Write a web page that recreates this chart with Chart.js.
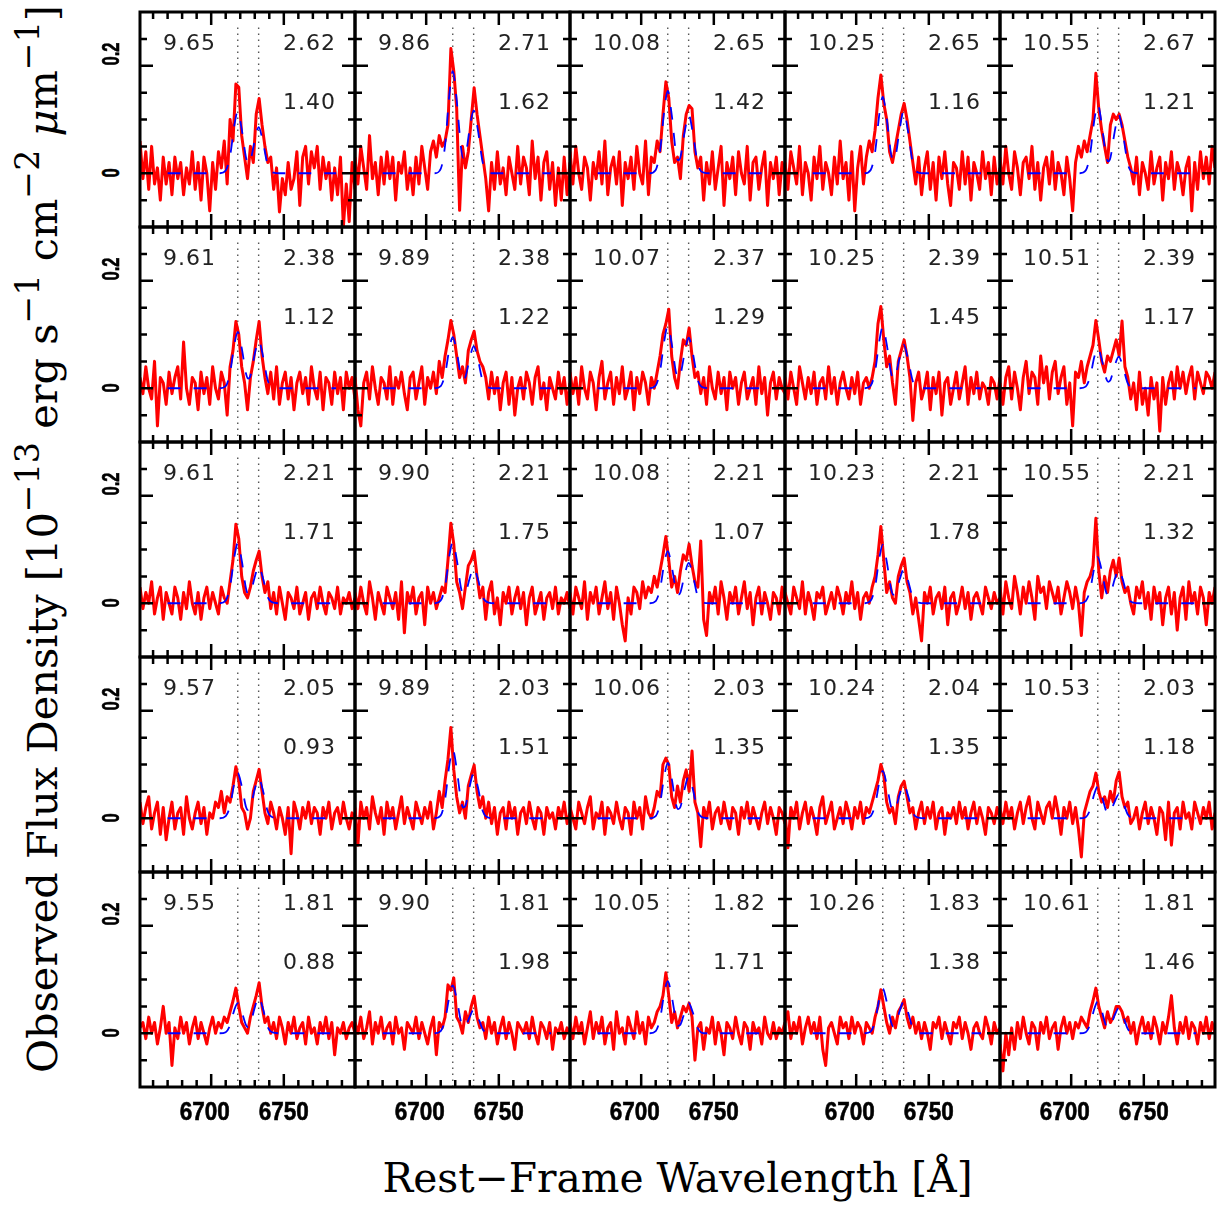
<!DOCTYPE html>
<html>
<head>
<meta charset="utf-8">
<script src="https://cdn.jsdelivr.net/npm/chart.js"></script>
<style>
  body { margin: 0; background: #fff; }
  #fig { position: relative; width: 1224px; height: 1205px; overflow: hidden; background: #fff; }
  #fig canvas { position: absolute; }
  .txt { position: absolute; white-space: nowrap; line-height: 1; color: #000; }
  .num { font-family: "DejaVu Sans", sans-serif; font-weight: normal; color: #222; letter-spacing: 1px; }
  .tick { font-family: "Liberation Sans", Arial, sans-serif; font-weight: bold; -webkit-text-stroke: 0.6px #000; }
  .title { font-family: "DejaVu Serif", serif; }
  .title sup { font-size: 0.8em; vertical-align: baseline; position: relative; top: -0.55em; }
</style>
</head>
<body>
<div id="fig"></div>
<script>
// wavelength grid of the observed spectra (rest frame, A)
const WAVE = [
  6651,6653,6655,6657,6659,6661,6663,6665,6667,6669,
  6671,6673,6675,6677,6679,6681,6683,6685,6687,6689,
  6691,6693,6695,6697,6699,6701,6703,6705,6707,6709,
  6711,6713,6715,6717,6719,6721,6723,6725,6727,6729,
  6731,6733,6735,6737,6739,6741,6743,6745,6747,6749,
  6751,6753,6755,6757,6759,6761,6763,6765,6767,6769,
  6771,6773,6775,6777,6779,6781,6783,6785,6787,6789,
  6791,6793,6795,6797,6799
];

// fitted model (blue dashed) is sampled on this grid
const MODEL_WAVE = [6670, 6706, 6710, 6713, 6716, 6718.3, 6721, 6724, 6725.5, 6727, 6730, 6732.7, 6735.5, 6739, 6743, 6747, 6786];

// [SII] doublet positions (dotted lines)
const LINE_WAVES = [6718.29, 6732.67];

// tick values
const X_TICKS = [6660, 6670, 6680, 6690, 6700, 6710, 6720, 6730, 6740, 6750, 6760, 6770, 6780, 6790];
const X_MAJOR = [6700, 6750];
const Y_TICKS = [-0.05, 0, 0.05, 0.1, 0.15, 0.2, 0.25];
const Y_MAJOR = [0, 0.2];
const X_LABELS = [6700, 6750];
const Y_LABELS = [0.2, 0];

// numbers printed in each panel (row by row)
const NUM_LEFT = ['9.65','9.86','10.08','10.25','10.55', '9.61','9.89','10.07','10.25','10.51',
                  '9.61','9.90','10.08','10.23','10.55', '9.57','9.89','10.06','10.24','10.53',
                  '9.55','9.90','10.05','10.26','10.61'];
const NUM_RIGHT = ['2.62','2.71','2.65','2.65','2.67', '2.38','2.38','2.37','2.39','2.39',
                   '2.21','2.21','2.21','2.21','2.21', '2.05','2.03','2.03','2.04','2.03',
                   '1.81','1.81','1.82','1.83','1.81'];
const NUM_RATIO = ['1.40','1.62','1.42','1.16','1.21', '1.12','1.22','1.29','1.45','1.17',
                   '1.71','1.75','1.07','1.78','1.32', '0.93','1.51','1.35','1.35','1.18',
                   '0.88','1.98','1.71','1.38','1.46'];

// observed flux density, one array per panel
const FLUX_ROW1 = [
  [.06,-.01,.04,-.03,.05,-.02,.01,-.05,.03,-.02, .02,-.04,.03,-.01,.02,-.04,.01,-.02,.04,-.03,
   .02,-.05,.03,.00,-.07,.02,-.03,.04,.01,.06, -.02,.10,.06,.166,.16,.07,.03,-.01,.05,.02,
   .11,.139,.09,.05,.02,.03,-.03,.01,-.072,-.01, -.04,.02,-.03,-.01,.04,-.06,.03,.05,-.02,.04,
   .01,.05,-.03,.03,-.01,.02,-.05,.01,-.04,.03, -.10,-.02,-.09,.02,-.03],
  [.03,-.02,.05,.01,-.03,.07,-.01,.02,-.04,.03, -.02,.04,-.01,.03,-.05,.02,.00,.04,-.03,.01,
   -.04,.03,-.02,.05,.01,-.03,.04,.06,.03,.07, .05,.06,.09,.232,.19,.12,-.069,.05,.01,.04,
   .10,.159,.11,.07,.03,-.01,-.07,.02,-.03,.04, -.02,.01,-.04,.03,.00,-.03,.05,-.02,.03,.01,
   -.04,.06,-.01,.03,-.05,.02,.04,-.03,.02,-.06, .01,-.05,.03,-.04,.02],
  [.04,-.02,.05,.00,-.03,.03,.01,-.05,.02,-.01, .04,-.02,.06,-.04,.01,.03,-.02,.04,-.06,.02,
   -.01,.03,-.03,.05,.00,-.02,.06,-.04,.03,.02, .06,.04,.11,.17,.14,.06,.02,.03,-.01,.07,
   .11,.126,.12,.04,.01,.03,-.05,.02,-.02,.04, -.03,.01,.05,-.06,.02,-.01,.03,-.04,.04,.00,
   -.02,.05,-.05,.02,.03,-.03,.01,.04,-.06,.02, -.01,.03,-.04,.02,.00],
  [.02,-.03,.04,.01,-.02,.05,-.04,.02,.00,-.05, .03,-.01,.05,-.03,.02,.00,-.04,.03,-.02,.06,
   -.01,.02,-.05,.04,-.07,.01,.05,-.02,.03,.06, .04,.08,.14,.183,.13,.10,.04,.02,.05,.08,
   .11,.13,.10,.06,.02,-.02,.03,-.04,.01,.04, -.03,.02,-.05,.03,-.01,.04,-.02,-.06,.02,.01,
   -.03,.04,-.02,.03,-.05,.02,.00,-.03,.04,-.01, .02,-.04,.03,-.02,.01],
  [.03,-.02,.05,.00,-.03,.04,.01,-.04,.02,.03, -.01,.05,-.03,.02,-.05,.01,.03,-.02,.04,-.03,
   .02,.00,-.04,.03,-.01,-.07,.02,.05,.03,.06, .04,.07,.10,.186,.12,.08,.05,.02,.09,.11,
   .10,.11,.09,.06,.03,.01,-.02,.03,-.04,.02, .00,-.03,.04,-.02,.01,.03,-.05,.02,-.01,.04,
   -.03,.02,.00,-.04,.01,.03,-.07,.02,-.03,.04, -.01,.03,-.02,.05,.01]
];
const FLUX_ROW2 = [
  [.02,-.01,.04,.00,-.02,.05,-.07,.02,.01,-.03, .03,-.01,.02,.04,-.02,.086,.00,-.03,.02,.01,
   -.04,.03,-.01,.02,-.03,.04,.00,-.02,.03,.01, -.05,.04,.07,.124,.10,.04,.01,-.04,.02,.05,
   .09,.124,.06,.02,-.01,.03,-.02,.04,-.03,.01, .03,-.02,.02,-.04,.01,.03,-.01,.02,-.03,.04,
   .00,-.02,.03,-.04,.02,.01,-.03,.03,-.01,.02, -.04,.03,.00,.02,-.02],
  [.02,-.04,-.07,.01,.03,-.02,.04,.00,-.03,.02, .01,-.02,.04,-.03,.02,.00,.03,-.01,-.04,.02,
   .03,-.02,.01,.04,-.03,.02,.00,.03,-.01,.05, .02,.06,.09,.126,.10,.06,.02,.04,.01,.07,
   .09,.106,.07,.05,.04,.02,-.02,.03,-.01,.02, -.04,.01,.03,-.03,.02,-.05,.00,.02,-.02,.03,
   .01,-.03,.02,.04,-.02,.01,-.04,.02,.00,-.02, .03,-.01,.02,-.03,.01],
  [.03,-.01,.02,-.03,.04,.00,-.02,.03,.01,-.04, .02,.05,-.02,.01,.03,-.03,.02,-.01,.04,-.02,
   .00,.03,-.04,.02,-.01,.03,.01,-.03,.02,.00, .03,.06,.10,.12,.147,.06,.02,.00,.05,.09,
   .08,.112,.06,.02,.03,-.01,.02,-.03,.04,.00, -.02,.03,-.01,.02,-.04,.03,.00,.02,-.03,.01,
   .03,-.02,.00,.02,-.03,.04,-.01,.02,-.05,.01, .03,-.02,.02,.00,-.01],
  [.02,-.02,.03,.00,-.03,.04,.01,-.02,.02,-.01, .03,-.03,.01,.02,-.02,.04,-.01,.02,-.03,.01,
   .03,.00,-.02,.02,-.01,.03,-.03,.01,.02,.00, .02,.05,.12,.152,.09,.04,.06,.01,-.03,.05,
   .07,.09,.06,.02,-.06,.01,.03,-.02,.00,.03, -.04,.02,-.01,.03,-.05,.01,.02,-.03,.00,.03,
   -.02,.01,.04,-.03,.02,-.01,.03,-.02,.01,.00, -.03,.02,.01,-.02,.02],
  [.01,-.03,.02,.04,-.02,.03,.00,-.04,.02,.05, -.01,.03,.02,-.03,.06,.01,.04,-.02,.03,.05,
   -.01,.02,.04,-.03,.01,-.07,.03,.02,.05,.01, .04,.06,.08,.126,.09,.05,.03,.06,.05,.07,
   .09,.06,.125,.04,.02,-.02,.01,-.04,.03,-.03, .00,-.05,.02,-.02,.01,-.08,.02,-.03,.01,.03,
   -.02,.04,.00,.03,-.01,.02,.04,-.02,.03,.01, -.01,.03,.02,.00,.03]
];
const FLUX_ROW3 = [
  [.03,-.01,.02,.00,.04,-.02,.01,.03,-.03,.02, .00,-.02,.03,.01,-.03,.02,-.01,.04,.00,-.02,
   .02,-.03,.01,.03,-.01,.02,.00,-.02,.03,.01, .00,.04,.08,.147,.12,.05,.02,.01,.03,.06,
   .08,.097,.05,.02,.04,-.01,.02,-.02,.03,.00, -.03,.02,.01,-.01,.03,-.02,.00,.02,-.03,.01,
   .02,-.01,.03,.00,-.02,.02,.01,-.01,.03,-.02, .01,.00,.02,-.01,.01],
  [.02,-.01,.03,.00,-.02,.04,.01,-.03,.02,.00, -.02,.03,.01,-.01,.02,-.03,.04,-.055,.02,.00,
   .03,-.02,.01,.02,-.04,.03,.00,.02,-.01,.01, .03,.02,.08,.149,.11,.04,.02,-.01,.03,.07,
   .08,.097,.05,.01,.03,-.03,.02,.04,-.02,.01, -.04,.02,.00,.03,-.02,.01,.03,-.01,.02,-.04,
   .01,.03,-.02,.00,.02,-.03,.01,.02,-.01,.03, -.02,.01,.00,.02,-.01],
  [.02,-.02,.03,.01,-.01,.04,-.03,.02,.00,.03, -.02,.01,.04,-.01,.02,-.03,.03,.00,-.04,-.07,
   .01,-.02,.03,.02,-.01,.04,.01,.03,.02,.05, .03,.06,.09,.124,.08,.03,.05,.02,.06,.09,
   .08,.11,.07,.04,.03,.116,-.03,-.06,.02,.00, .03,-.02,.04,.01,-.03,.02,.00,.03,-.02,.01,
   .04,-.01,.02,-.04,.01,.03,-.02,.02,.00,-.03, .02,.01,-.02,.03,.00],
  [.02,.00,-.02,.03,.01,-.01,.04,-.02,.02,.00, -.03,.02,.01,.03,-.02,.00,.02,-.01,.03,.01,
   -.02,.02,.00,.04,-.01,.02,-.03,.01,.02,.00, .03,.05,.09,.143,.08,.02,.04,.01,.00,.05,
   .07,.084,.04,.02,-.02,.01,-.03,-.07,.02,.00, .03,-.02,.01,.02,-.01,.03,-.04,.01,.02,-.02,
   .00,.03,-.01,.02,-.03,.01,.02,.00,-.02,.03, .01,-.01,.02,.00,.01],
  [.03,-.02,.04,.01,-.01,.05,.02,-.02,.03,.00, .04,.01,-.03,.05,.02,.03,-.01,.04,.02,.00,
   .03,-.02,.01,.04,.02,-.01,.03,.00,-.06,.02, .04,.05,.07,.158,.06,.01,.05,.02,.06,.08,
   .05,.084,.04,.02,.03,.00,-.02,.03,.01,.04, -.01,.02,-.03,.03,.00,.02,-.04,.01,.03,-.02,
   .02,-.05,.01,.03,-.03,.04,.00,.02,-.02,.03, .01,-.04,.02,.00,.03]
];
const FLUX_ROW4 = [
  [.03,-.01,.02,.04,-.02,.01,.03,-.03,.02,-.04, .00,.03,-.02,.01,.02,-.03,.04,.00,-.02,.01,
   .03,-.01,.02,-.03,.01,.00,.03,.02,.05,.01, .04,.03,.06,.096,.07,.02,.01,-.02,.00,.05,
   .07,.091,.05,.01,-.01,.03,.01,-.02,.02,.00, -.03,.02,-.066,.03,.01,-.02,.02,.00,.03,-.01,
   .02,.01,-.03,.02,.00,.03,-.02,.01,.02,-.01, .03,.00,-.02,.01,.00],
  [.02,-.05,.03,.00,.02,-.02,.04,.01,-.01,.02, -.03,.03,.00,.02,-.02,.01,.04,-.01,.02,.00,
   -.02,.03,.01,-.01,.02,.00,.03,-.02,.01,.05, .02,.07,.11,.169,.09,.04,.01,.03,.00,.06,
   .08,.099,.05,.02,.04,.00,.03,-.01,.02,-.03, .01,.02,-.02,.03,.00,.02,-.03,.01,.02,-.01,
   .03,.00,-.02,.02,.01,-.03,.02,.00,.01,-.02, .02,.00,.03,-.01,.01],
  [.02,.00,-.02,.03,.01,-.01,.02,.04,-.02,.01, .00,.03,-.03,.02,.01,-.01,.03,.00,-.02,.02,
   .01,-.03,.03,.00,.02,-.02,.04,.01,.00,.02, .05,.04,.10,.112,.10,.04,.02,.06,.03,.07,
   .09,.05,.125,.03,.01,-.053,.02,.00,.03,-.02, .01,.02,-.01,.03,.00,-.02,.02,.01,-.03,.02,
   .00,.03,-.01,.02,.00,-.02,.01,.03,-.01,.02, .00,-.03,.02,.01,-.01],
  [.01,-.055,.02,.00,.03,-.02,.01,.03,-.01,.02, .00,-.03,.02,.04,-.01,.01,.03,-.02,.00,.02,
   -.01,.03,.01,-.02,.02,.00,.03,-.01,.02,.01, .03,.05,.07,.10,.08,.03,.01,.02,-.01,.04,
   .06,.069,.04,.01,.02,-.02,.01,.03,-.01,.02, .00,.03,-.02,.01,.02,-.03,.01,.00,.02,-.01,
   .03,.00,.02,-.02,.01,.03,-.01,.02,.00,-.03, .02,.01,-.01,.02,.00],
  [.02,-.01,.03,.00,.02,-.02,.01,.03,-.01,.02, .04,.00,-.02,.03,.01,-.01,.02,.03,.00,.04,
   .01,-.03,.02,.00,.03,-.01,.02,-.02,-.072,.01, .03,.05,.06,.084,.05,.03,.04,.02,.05,.03,
   .07,.086,.04,.02,.03,-.01,.00,.02,-.02,.01, .03,-.01,.02,.00,-.03,.02,.01,-.04,.03,-.05,
   .01,.02,-.02,.03,.00,.01,-.02,.03,.01,-.01, .02,.00,.03,-.02,.01]
];
const FLUX_ROW5 = [
  [.01,.02,-.01,.03,.00,.02,-.02,.01,.05,.00, .02,-.06,.01,-.01,.03,.00,.02,-.02,.01,.03,
   -.01,.02,.00,-.02,.01,.03,.00,.02,.01,.03, .02,.04,.06,.084,.05,.02,.01,.00,.03,.05,
   .07,.094,.05,.02,.03,.00,.02,-.01,.03,.01, -.02,.02,.00,.03,-.01,.01,.02,-.02,.03,.00,
   .01,-.02,.02,.00,.03,-.01,.02,-.04,.01,.00, .02,-.01,.01,.02,.00],
  [.02,.00,.03,-.01,.01,.04,-.02,.02,.00,.03, -.01,.01,.02,-.02,.03,.00,.01,-.03,.02,.01,
   .00,.03,-.01,.02,.00,-.02,.01,.03,-.04,.02, .01,.03,.09,.08,.103,.03,.02,.00,.04,.02,
   .05,.069,.03,.01,.02,-.01,.03,.00,.02,-.02, .01,.03,-.01,.02,.00,-.03,.02,.01,.00,.02,
   -.01,.03,.00,-.02,.02,.01,-.01,.02,-.03,.01, .00,.02,-.01,.01,.00],
  [.02,-.01,.03,.00,.02,-.02,.01,.04,-.01,.02, .00,.03,-.02,.01,.02,-.03,.04,.00,.01,-.02,
   .03,.01,-.01,.04,.00,.02,-.02,.03,.01,.02, .04,.05,.07,.1125,.07,.02,.04,.01,.03,.05,
   .04,.056,.03,-.05,.01,.02,-.03,.01,.00,.03, -.02,.02,.00,-.04,.02,.01,-.01,.03,.00,-.02,
   .02,.01,-.03,.02,.00,.01,-.02,.03,.00,-.01, .02,-.01,.01,.00,.02],
  [.02,.04,-.01,.02,.00,.03,-.02,.01,.03,.00, .02,-.01,.03,-.03,-.06,.01,.02,.00,-.02,.03,
   .01,.02,-.01,.03,.00,.02,.01,-.02,.02,.01, .00,.03,.05,.081,.05,.02,.00,.03,.01,.04,
   .05,.0625,.03,.01,.03,.00,.02,-.01,.02,.00, -.03,.02,.01,.03,-.01,.02,.00,-.02,.02,.01,
   .03,-.01,.02,.00,-.03,.01,.02,.00,-.01,.03, .01,-.02,.02,.00,.01],
  [-.02,-.07,.00,-.04,.01,-.03,.02,-.01,.03,.00, -.02,.02,.01,-.03,.02,.00,.03,-.01,.01,.02,
   -.03,.01,.03,.00,.02,-.01,.02,.01,.03,.02, .01,.04,.06,.084,.05,.03,.01,.04,.02,.03,
   .05,.05,.04,.02,.03,.00,.02,-.02,.01,.03, .00,.02,-.01,.03,.01,-.02,.02,.00,.03,.07,
   .01,-.02,.02,.00,.03,-.01,.02,.01,-.02,.02, .00,.03,-.01,.02,.00]
];

// double-Gaussian model fit, sampled on MODEL_WAVE
const MODEL_ROW1 = [
  [0,0,.005,.032,.090,.115,.082,.029,.018,.023,.061,.086,.060,.014,.001,0,0],
  [0,0,.008,.052,.148,.190,.136,.047,.028,.032,.084,.117,.082,.019,.001,0,0],
  [0,0,.006,.042,.119,.153,.109,.037,.024,.030,.078,.109,.076,.017,.001,0,0],
  [0,0,.006,.039,.111,.142,.102,.036,.024,.030,.083,.116,.081,.019,.001,0,0],
  [0,0,.005,.035,.100,.128,.092,.032,.022,.029,.078,.109,.076,.017,.001,0,0]
];
const MODEL_ROW2 = [
  [0,0,.004,.029,.082,.105,.075,.027,.018,.023,.064,.089,.062,.014,.001,0,0],
  [0,0,.004,.026,.074,.095,.068,.023,.016,.021,.056,.078,.055,.012,.001,0,0],
  [0,0,.005,.032,.090,.116,.083,.029,.019,.025,.067,.094,.066,.015,.001,0,0],
  [0,0,.005,.031,.089,.114,.082,.029,.018,.022,.058,.081,.057,.013,.001,0,0],
  [0,0,.003,.021,.059,.075,.054,.019,.012,.015,.042,.059,.041,.009,0,0,0]
];
const MODEL_ROW3 = [
  [0,0,.005,.031,.087,.112,.080,.027,.017,.019,.049,.069,.048,.011,.001,0,0],
  [0,0,.005,.031,.089,.114,.082,.028,.017,.019,.047,.066,.046,.011,.001,0,0],
  [0,0,.004,.027,.076,.097,.069,.024,.016,.020,.054,.075,.053,.012,.001,0,0],
  [0,0,.005,.030,.085,.109,.078,.027,.016,.017,.045,.063,.044,.010,.001,0,0],
  [0,0,.004,.024,.067,.086,.061,.021,.014,.017,.045,.063,.044,.010,.001,0,0]
];
const MODEL_ROW4 = [
  [0,0,.004,.023,.066,.084,.060,.021,.015,.020,.054,.075,.053,.012,.001,0,0],
  [0,0,.005,.035,.100,.128,.092,.032,.020,.023,.060,.084,.059,.013,.001,0,0],
  [0,0,.004,.028,.080,.103,.074,.025,.017,.021,.056,.078,.055,.012,.001,0,0],
  [0,0,.004,.024,.068,.088,.063,.022,.014,.017,.045,.063,.044,.010,.001,0,0],
  [0,0,.002,.016,.046,.059,.042,.014,.009,.012,.031,.044,.031,.007,0,0,0]
];
const MODEL_ROW5 = [
  [0,0,.002,.015,.044,.056,.040,.015,.011,.017,.048,.068,.047,.011,.001,0,0],
  [0,0,.004,.024,.069,.089,.064,.021,.012,.013,.031,.044,.031,.007,0,0,0],
  [0,0,.004,.027,.076,.097,.069,.024,.014,.016,.040,.056,.039,.009,0,0,0],
  [0,0,.003,.023,.065,.083,.059,.021,.013,.016,.042,.059,.041,.009,0,0,0],
  [0,0,.002,.016,.046,.059,.042,.014,.010,.013,.034,.047,.033,.008,0,0,0]
];

const FLUX = [FLUX_ROW1, FLUX_ROW2, FLUX_ROW3, FLUX_ROW4, FLUX_ROW5];
const MODEL = [MODEL_ROW1, MODEL_ROW2, MODEL_ROW3, MODEL_ROW4, MODEL_ROW5];

// layout
const GRID_LEFT = 140, GRID_TOP = 12, PANEL = 215, PAD = 2;
const fig = document.getElementById('fig');

function addText(html, cls, size, x, baseline, anchor, squeeze) {
  const el = document.createElement('div');
  el.className = 'txt ' + cls;
  el.style.fontSize = size + 'px';
  el.innerHTML = html;
  fig.appendChild(el);
  const w = el.offsetWidth;
  let left = x;
  if (anchor === 'right') left = x - w;
  if (anchor === 'center') left = x - w / 2;
  el.style.left = left + 'px';
  el.style.top = (baseline - 0.846 * size) + 'px';
  if (squeeze) el.style.transform = 'scaleX(' + squeeze + ')';
  return el;
}

// rotated text, reading bottom to top; baselineX is the baseline's x position
function addRotated(html, cls, size, baselineX, cy, squeeze) {
  const el = document.createElement('div');
  el.className = 'txt ' + cls;
  el.style.fontSize = size + 'px';
  el.innerHTML = html;
  fig.appendChild(el);
  el.style.left = (baselineX - 0.346 * size) + 'px';
  el.style.top = cy + 'px';
  el.style.transform = 'translate(-50%, -50%) rotate(-90deg) scaleX(' + (squeeze || 1) + ')';
  return el;
}

// frame and inward ticks drawn from the chart's own scales
const framePlugin = {
  id: 'frame',
  afterDatasetsDraw(chart) {
    const { ctx, chartArea: a, scales: { x, y } } = chart;
    ctx.save();
    ctx.strokeStyle = '#000';
    ctx.lineWidth = 2.5;
    ctx.beginPath();
    X_TICKS.forEach(v => {
      const px = x.getPixelForValue(v);
      const len = X_MAJOR.includes(v) ? 13 : 7;
      ctx.moveTo(px, a.bottom); ctx.lineTo(px, a.bottom - len);
      ctx.moveTo(px, a.top); ctx.lineTo(px, a.top + len);
    });
    Y_TICKS.forEach(v => {
      const py = y.getPixelForValue(v);
      const len = Y_MAJOR.includes(v) ? 13 : 7;
      ctx.moveTo(a.left, py); ctx.lineTo(a.left + len, py);
      ctx.moveTo(a.right, py); ctx.lineTo(a.right - len, py);
    });
    ctx.stroke();
    ctx.lineWidth = 3;
    ctx.strokeRect(a.left, a.top, a.right - a.left, a.bottom - a.top);
    ctx.restore();
  }
};

for (let r = 0; r < 5; r++) {
  for (let c = 0; c < 5; c++) {
    const k = r * 5 + c;
    const x0 = GRID_LEFT + PANEL * c;
    const y0 = GRID_TOP + PANEL * r;

    const cv = document.createElement('canvas');
    cv.width = PANEL + 2 * PAD;
    cv.height = PANEL + 2 * PAD;
    cv.style.left = (x0 - PAD) + 'px';
    cv.style.top = (y0 - PAD) + 'px';
    fig.appendChild(cv);

    const flux = FLUX[r][c].map((v, i) => ({ x: WAVE[i], y: v }));
    const model = MODEL[r][c].map((v, i) => ({ x: MODEL_WAVE[i], y: v }));
    const dotted = LINE_WAVES.map(w => ({
      data: [{ x: w, y: -0.1 }, { x: w, y: 0.275 }],
      borderColor: '#555',
      borderWidth: 1.4,
      borderDash: [1.5, 4.5],
      pointRadius: 0
    }));

    const chart = new Chart(cv, {
      type: 'line',
      data: {
        datasets: [
          { data: model, borderColor: '#0000ff', borderWidth: 1.8, borderDash: [13, 13],
            pointRadius: 0, cubicInterpolationMode: 'monotone' },
          { data: flux, borderColor: '#ff0000', borderWidth: 3, pointRadius: 0,
            tension: 0, borderJoinStyle: 'round' },
          ...dotted
        ]
      },
      options: {
        responsive: false,
        animation: false,
        events: [],
        layout: { padding: PAD },
        plugins: { legend: { display: false }, tooltip: { enabled: false } },
        scales: {
          x: { type: 'linear', min: 6651, max: 6799, display: false },
          y: { type: 'linear', min: -0.1, max: 0.3, display: false }
        }
      },
      plugins: [framePlugin]
    });

    // numbers in the panel
    addText(NUM_LEFT[k], 'num', 22, x0 + 23, y0 + 38.5, 'left');
    addText(NUM_RIGHT[k], 'num', 22, x0 + 196, y0 + 38.5, 'right');
    addText(NUM_RATIO[k], 'num', 22, x0 + 196, y0 + 97.5, 'right');

    // y tick labels on the left column
    if (c === 0) {
      Y_LABELS.forEach(v => {
        const py = y0 - PAD + chart.scales.y.getPixelForValue(v);
        const shift = v === 0 ? 0 : -12;
        addRotated(String(v), 'tick', 23, 118.5, py + shift, 0.72);
      });
    }
    // x tick labels on the bottom row
    if (r === 4) {
      X_LABELS.forEach(v => {
        const px = x0 - PAD + chart.scales.x.getPixelForValue(v);
        const shift = v === 6700 ? -6.5 : 0;
        addText(String(v), 'tick', 25, px + shift, 1120, 'center', 0.9);
      });
    }
  }
}

// axis titles, scaled to the reference widths
const xt = addText('Rest\u2212Frame Wavelength [\u00c5]', 'title', 38, 677.5, 1192, 'center');
const xs = 38 * 590 / xt.offsetWidth;
xt.remove();
addText('Rest\u2212Frame Wavelength [\u00c5]', 'title', xs, 677.5, 1192, 'center');

const yHtml = 'Observed Flux Density [10<sup>\u221213</sup> erg s<sup>\u22121</sup> cm<sup>\u22122</sup> <i>\u03bc</i>m<sup>\u22121</sup>]';
const yt = addRotated(yHtml, 'title', 40, 57, 539);
const ys = 40 * 1068 / yt.offsetWidth;
yt.remove();
addRotated(yHtml, 'title', ys, 57, 539);
</script>
</body>
</html>
